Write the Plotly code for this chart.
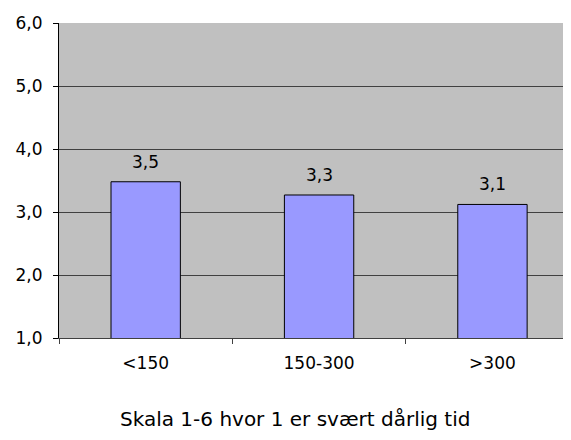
import plotly.graph_objects as go

categories = ["<150", "150-300", ">300"]
values = [3.48, 3.27, 3.12]
value_labels = ["3,5", "3,3", "3,1"]
y_ticks = [1, 2, 3, 4, 5, 6]
y_tick_labels = ["1,0", "2,0", "3,0", "4,0", "5,0", "6,0"]
x_title = "Skala 1-6 hvor 1 er svært dårlig tid"

font = "DejaVu Sans, sans-serif"

# page body has an 8px default margin; figure is sized/positioned to compensate
W, H = 563, 424
ML, MT, MB, MR = 51, 15, 94, 0
plot_w = W - ML - MR
plot_h = H - MT - MB

fig = go.Figure()
fig.add_trace(go.Bar(
    x=categories, y=values, width=0.40,
    marker=dict(color="#9999FF", line=dict(color="black", width=1)),
    hoverinfo="skip",
))
for c, v, t in zip(categories, values, value_labels):
    fig.add_annotation(x=c, y=v, text=t, showarrow=False, yanchor="bottom",
                       yshift=8, font=dict(family=font, size=17, color="black"))

fig.add_annotation(
    xref="paper", yref="paper",
    x=(287 - ML) / plot_w, y=-81 / plot_h,
    xanchor="center", yanchor="middle", showarrow=False,
    text=x_title, font=dict(family=font, size=20, color="black"),
)

fig.update_layout(
    width=W, height=H,
    margin=dict(l=ML, r=MR, t=MT, b=MB, autoexpand=False),
    paper_bgcolor="white", plot_bgcolor="#C0C0C0",
    showlegend=False,
    font=dict(family=font, size=17, color="black"),
    xaxis=dict(
        type="category", range=[-0.5, 2.453], tickson="boundaries",
        ticks="outside", ticklen=5, tickcolor="#404040",
        showgrid=False, showline=True, linecolor="#404040", linewidth=1,
        tickfont=dict(family=font, size=17), ticklabelstandoff=10,
    ),
    yaxis=dict(
        range=[1, 6], tickvals=y_ticks, ticktext=y_tick_labels,
        ticks="outside", ticklen=5, tickcolor="black",
        showgrid=True, gridcolor="#404040", gridwidth=1.2,
        showline=True, linecolor="black", linewidth=1,
        zeroline=False, tickfont=dict(family=font, size=17),
        ticklabelstandoff=7,
    ),
)
fig.write_html("out.html")
